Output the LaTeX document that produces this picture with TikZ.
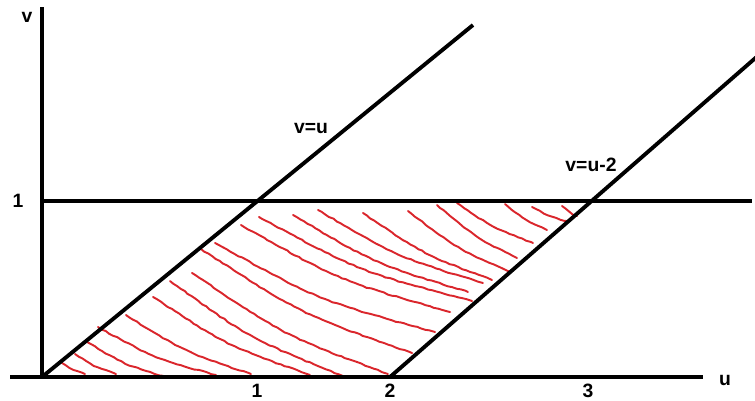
\documentclass[tikz,border=0pt]{standalone}
\usepackage{fontspec}
\setmainfont{Liberation Sans}
\usetikzlibrary{decorations.pathmorphing}

\definecolor{hatchred}{RGB}{218,38,44}

\tikzstyle{axis}=[line width=2.2pt]
\tikzstyle{bound}=[line width=2.2pt]
\tikzstyle{hatch}=[draw=hatchred, line width=1.1pt, line cap=round,
  decorate, decoration={random steps, segment length=2.5pt, amplitude=0.3pt}]
\tikzstyle{lbl}=[font=\bfseries\fontsize{11}{13}\selectfont, inner sep=0pt]

\begin{document}
\begin{tikzpicture}[x=0.02cm, y=-0.02cm]
      \useasboundingbox (0,0) rectangle (755,400);
      \pgfmathsetseed{7}
      % hatching of the region
      \foreach \sx/\sy/\ex/\ey in {62/363/85/374, 75/354/116/374, 87/342/165/377,
          98/327/216/375, 126/315/251/374, 153/297/310/375, 170/281/343/376,
          192/273/388/374, 201/249/412/353, 215/243/435/332, 241/225/450/312,
          259/217/472/301, 293/215/468/292, 318/210/483/283, 363/213/492/280,
          408/211/510/272, 437/205/517/258, 457/203/533/243, 505/204/547/230,
          532/207/567/221, 562/206/577/216} {%
        \pgfmathsetmacro\cx{(\sx+\ex)/2-0.06*(\ey-\sy)}
        \pgfmathsetmacro\cy{(\sy+\ey)/2+0.06*(\ex-\sx)}
        \draw[hatch] (\sx,\sy) .. controls (\cx,\cy) .. (\ex,\ey);
      }
      \coordinate (O) at (42,377);
      \coordinate (vtop) at (42,7);
      \coordinate (uleft) at (10,377);
      \coordinate (uright) at (703,377);
      \coordinate (hl) at (42,201);
      \coordinate (hr) at (752,201);
      \coordinate (atop) at (473,25);
      \coordinate (bbot) at (390,377);
      \coordinate (btop) at (760,54);
      \draw[axis] (O) -- (vtop);
      \draw[axis] (uleft) -- (uright);
      \draw[bound] (hl) -- (hr);
      \draw[bound] (O) -- (atop);
      \draw[bound] (bbot) -- (btop);
      \node[lbl] (vlab) at (27,17) {v};
      \node[lbl] (ulab) at (725,380) {u};
      \node[lbl] (vone) at (18,201) {1};
      \node[lbl] (uone) at (257,391) {1};
      \node[lbl] (utwo) at (390,391) {2};
      \node[lbl] (uthree) at (588,391) {3};
      \node[lbl] (eqa) at (311,128) {v=u};
      \node[lbl] (eqb) at (591,165) {v=u-2};
    \end{tikzpicture}
\end{document}
